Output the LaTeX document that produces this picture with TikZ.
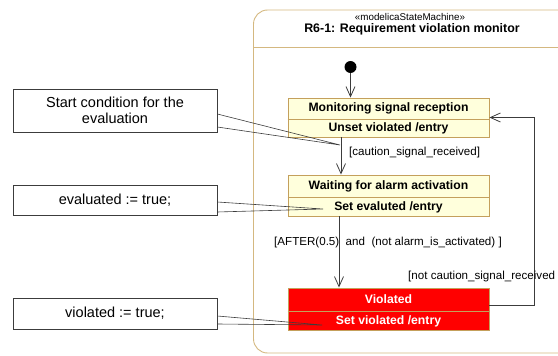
\documentclass[tikz,border=0pt]{standalone}
\usepackage{fontspec}
\setmainfont{Liberation Sans}
\usepackage{tikz}
\usetikzlibrary{arrows.meta}
\definecolor{statefill}{RGB}{255,255,220}
\definecolor{statebd}{RGB}{196,160,92}
\definecolor{framec}{RGB}{212,184,128}
\definecolor{violred}{RGB}{255,0,0}
\definecolor{linec}{RGB}{60,60,60}
\tikzstyle{state}=[draw=statebd,fill=statefill,line width=0.9pt,minimum width=201pt,inner sep=0pt]
\tikzstyle{sname}=[font=\fontsize{12.2}{14}\selectfont\bfseries,inner sep=0pt]
\tikzstyle{guard}=[font=\fontsize{11.6}{13}\selectfont,inner sep=0pt,anchor=west]
\tikzstyle{note}=[draw=linec,fill=white,line width=0.6pt,minimum width=204pt,align=center,font=\fontsize{14.5}{16}\selectfont]
\tikzstyle{trans}=[draw=linec,line width=0.8pt,-{Straight Barb[length=10pt,width=9pt]}]
\tikzstyle{anchorline}=[draw=linec,line width=0.6pt]

\begin{document}
\begin{tikzpicture}[x=1pt,y=-1pt]
\useasboundingbox (0,0) rectangle (558,356);
\clip (0,0) rectangle (558,356);

% frame of the state machine
\draw[framec,line width=0.9pt,rounded corners=14pt] (253.5,10) rectangle (580,353);
\draw[framec,line width=0.9pt] (253.5,47) -- (580,47);
\node[inner sep=0pt,font=\fontsize{9.8}{11}\selectfont] (stereo) at (410,17) {«modelicaStateMachine»};
\node[inner sep=0pt,font=\fontsize{12.4}{14}\selectfont\bfseries] (title) at (412,29) {R6-1: Requirement violation monitor};

% initial state
\node[circle,fill=black,minimum size=12pt,inner sep=0pt] (init) at (350.5,67) {};

% states
\node[state,minimum height=39pt] (mon) at (388.5,117.5) {};
\draw[statebd,line width=0.9pt] (mon.west |- 0,119) -- (mon.east |- 0,119);
\node[sname] (monname) at (388.5,108.5) {Monitoring signal reception};
\node[sname] (monact) at (388.5,128) {Unset violated /entry};

\node[state,minimum height=41pt] (wait) at (388.5,195.5) {};
\draw[statebd,line width=0.9pt] (wait.west |- 0,197) -- (wait.east |- 0,197);
\node[sname] (waitname) at (388.5,186) {Waiting for alarm activation};
\node[sname] (waitact) at (388.5,207) {Set evaluted /entry};

\node[state,fill=violred,minimum height=42pt] (viol) at (388.5,309) {};
\draw[statebd,line width=0.9pt] (viol.west |- 0,311) -- (viol.east |- 0,311);
\node[sname,text=white] (violname) at (388.5,299.5) {Violated};
\node[sname,text=white] (violact) at (388.5,321) {Set violated /entry};

% transitions
\draw[trans] (init) -- (init |- mon.north);
\draw[trans] ([xshift=-47.5pt]mon.south) -- ([xshift=-47.5pt]wait.north);
\node[guard] (g1) at (349,152.5) {[caution\_signal\_received]};
\draw[trans] ([xshift=-49.5pt]wait.south) -- ([xshift=-49.5pt]viol.north);
\node[guard] (g2) at (274,243) {[AFTER(0.5)\ \ and\ \ (not alarm\_is\_activated) ]};
\coordinate (ret) at (534,117.5);
\draw[trans] ([yshift=4pt]viol.east) -| (ret) -- (mon.east);
\node[guard] (g3) at (408,276) {[not caution\_signal\_received};

% notes
\node[note,minimum height=43pt] (n1) at (115,110.5) {Start condition for the\\evaluation};
\coordinate (t1) at (340,145);
\draw[anchorline] ([yshift=-3.5pt]n1.east) -- (t1) -- ([yshift=-16.5pt]n1.east);

\node[note,minimum height=30pt] (n2) at (115,200) {evaluated := true;};
\coordinate (t2) at (323,209);
\draw[anchorline] ([yshift=-2pt]n2.east) -- (t2) -- ([yshift=-12pt]n2.east);

\node[note,minimum height=31pt] (n3) at (115,313.5) {violated := true;};
\coordinate (t3) at (322,325);
\draw[anchorline] ([yshift=-2.5pt]n3.east) -- (t3) -- ([yshift=-10.5pt]n3.east);

\end{tikzpicture}
\end{document}
